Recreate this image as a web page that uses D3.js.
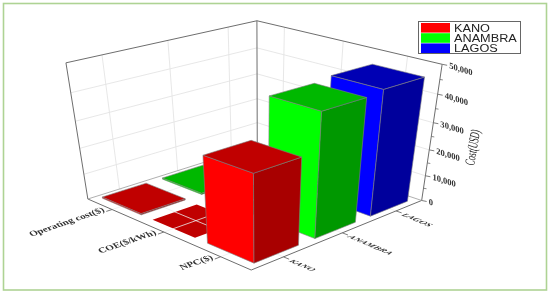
<!DOCTYPE html>
<html>
<head>
<meta charset="utf-8">
<script src="https://cdn.jsdelivr.net/npm/d3@7"></script>
<style>
html, body { margin: 0; padding: 0; background: #fff; }
svg { display: block; filter: blur(0.35px); }
</style>
</head>
<body>
<svg id="chart" width="550" height="294"></svg>
<script>
const cities = ["KANO", "ANAMBRA", "LAGOS"];
const costTypes = ["NPC($)", "COE($/kWh)", "Operating cost($)"];
const kanoValues = [32000, 5, 500];
const anambraValues = [45000, 5, 500];
const lagosValues = [46000, 5, 500];
const costTicks = [0, 10000, 20000, 30000, 40000, 50000];
const minorTicks = [5000, 15000, 25000, 35000, 45000];
const cityColors = [
    {front: "#ff0000", top: "#c00000", side: "#a80000"},
    {front: "#00ff00", top: "#00b800", side: "#009800"},
    {front: "#0000ff", top: "#0000b4", side: "#00009c"}
];
const seriesValues = [kanoValues, anambraValues, lagosValues];

// where the corners of the unit box sit in the picture: [a, b, c, x, y]
const boxCorners = [
    [0, 0, 0, 251, 271],
    [1, 0, 0, 422, 199],
    [0, 1, 0, 88, 198],
    [1, 1, 0, 257, 147],
    [1, 0, 1, 442, 65],
    [0, 1, 1, 66, 63],
    [1, 1, 1, 257, 20]
];

function solveLinear(A, v){
    const n = v.length;
    const M = A.map((row, i) => row.concat(v[i]));
    for(let i = 0; i < n; i++){
        let best = i;
        for(let r = i + 1; r < n; r++){
            if(Math.abs(M[r][i]) > Math.abs(M[best][i])) best = r;
        }
        [M[i], M[best]] = [M[best], M[i]];
        for(let r = 0; r < n; r++){
            if(r === i) continue;
            const f = M[r][i] / M[i][i];
            for(let c = i; c <= n; c++) M[r][c] -= f * M[i][c];
        }
    }
    return M.map((row, i) => row[n] / row[i]);
}

// least squares fit of the perspective camera
function fitCamera(corners){
    const rows = [], rhs = [];
    corners.forEach(([a, b, c, x, y]) => {
        rows.push([a, b, c, 1, 0, 0, 0, 0, -a * x, -b * x, -c * x]); rhs.push(x);
        rows.push([0, 0, 0, 0, a, b, c, 1, -a * y, -b * y, -c * y]); rhs.push(y);
    });
    const n = 11;
    const AtA = d3.range(n).map(i => d3.range(n).map(j => d3.sum(rows, r => r[i] * r[j])));
    const Atb = d3.range(n).map(i => d3.sum(rows, (r, k) => r[i] * rhs[k]));
    return solveLinear(AtA, Atb);
}

const cam = fitCamera(boxCorners);

function project(a, b, c){
    const w = cam[8] * a + cam[9] * b + cam[10] * c + 1;
    return [
        (cam[0] * a + cam[1] * b + cam[2] * c + cam[3]) / w,
        (cam[4] * a + cam[5] * b + cam[6] * c + cam[7]) / w
    ];
}

const x = d3.scaleBand().domain(cities).range([0, 1]).paddingInner(0.28).paddingOuter(0.15);
const y = d3.scaleBand().domain(costTypes).range([0, 1]).paddingInner(0.22).paddingOuter(0.11);
const z = d3.scaleLinear().domain([0, 50000]).range([0, 1]);

const svg = d3.select("#chart");
const line = d3.line();

function edge(p1, p2, color, width){
    svg.append("path")
        .attr("d", line([project(...p1), project(...p2)]))
        .attr("fill", "none")
        .attr("stroke", color)
        .attr("stroke-width", width);
}

function face(points, color){
    svg.append("path")
        .attr("d", line(points.map(p => project(...p))) + "Z")
        .attr("fill", color)
        .attr("stroke", "#808080")
        .attr("stroke-width", 0.6)
        .attr("stroke-linejoin", "round");
}

function drawBar(city, cost, value, colors){
    const a0 = x(city), a1 = a0 + x.bandwidth();
    const b0 = y(cost), b1 = b0 + y.bandwidth();
    const h = z(value);
    if(value < 100){
        svg.append("path")
            .attr("d", line([[a0, b0], [a1, b0], [a1, b1], [a0, b1]].map(p => project(p[0], p[1], 0))) + "Z")
            .attr("fill", colors.top);
        return;
    }
    face([[a0, b0, 0], [a0, b1, 0], [a0, b1, h], [a0, b0, h]], colors.front);
    face([[a0, b0, 0], [a1, b0, 0], [a1, b0, h], [a0, b0, h]], colors.side);
    face([[a0, b0, h], [a1, b0, h], [a1, b1, h], [a0, b1, h]], colors.top);
}

// frame round the figure
svg.append("rect")
    .attr("x", 3.5).attr("y", 3.5)
    .attr("width", 543).attr("height", 286.5)
    .attr("fill", "#fff")
    .attr("stroke", "#aed394")
    .attr("stroke-width", 1.6);

// wall grid
const gridColor = "#e4e4e4";
cities.forEach(c => {
    const a = x(c) + x.bandwidth() / 2;
    edge([a, 1, 0], [a, 1, 1], gridColor, 0.9);
});
costTypes.forEach(c => {
    const b = y(c) + y.bandwidth() / 2;
    edge([1, b, 0], [1, b, 1], gridColor, 0.9);
});
costTicks.slice(1, -1).forEach(t => {
    edge([0, 1, z(t)], [1, 1, z(t)], gridColor, 0.9);
    edge([1, 1, z(t)], [1, 0, z(t)], gridColor, 0.9);
});

// flat plates go under the floor grid, as in the original
cities.forEach((city, i) => {
    costTypes.forEach((cost, j) => {
        if(seriesValues[i][j] < 100) drawBar(city, cost, seriesValues[i][j], cityColors[i]);
    });
});
cities.forEach(c => {
    const a = x(c) + x.bandwidth() / 2;
    edge([a, 0, 0], [a, 1, 0], "#ececec", 0.8);
});
costTypes.forEach(c => {
    const b = y(c) + y.bandwidth() / 2;
    edge([0, b, 0], [1, b, 0], "#ececec", 0.8);
});

// box edges
const boxColor = "#6e6e6e";
edge([0, 1, 0], [0, 1, 1], boxColor, 1);
edge([0, 1, 1], [1, 1, 1], boxColor, 1);
edge([1, 1, 1], [1, 0, 1], boxColor, 1);
edge([1, 1, 0], [1, 1, 1], boxColor, 1);
edge([1, 0, 0], [1, 0, 1], boxColor, 1);
edge([0, 0, 0], [1, 0, 0], boxColor, 1);
edge([0, 0, 0], [0, 1, 0], boxColor, 1);
edge([0, 1, 0], [1, 1, 0], "#9a9a9a", 0.8);
edge([1, 0, 0], [1, 1, 0], "#9a9a9a", 0.8);

// bars, back to front
d3.range(costTypes.length - 1, -1, -1).forEach(j => {
    d3.range(cities.length - 1, -1, -1).forEach(i => {
        if(seriesValues[i][j] >= 100) drawBar(cities[i], costTypes[j], seriesValues[i][j], cityColors[i]);
    });
});

// cost axis ticks and labels
costTicks.forEach(t => {
    const p = project(1, 0, z(t));
    svg.append("path")
        .attr("d", line([p, [p[0] + 5, p[1] + 1]]))
        .attr("stroke", boxColor)
        .attr("stroke-width", 0.9);
    svg.append("text")
        .attr("transform", `translate(${p[0] + 7},${p[1] + 4}) matrix(0.95,0.3,0,1,0,0)`)
        .attr("font-family", "Liberation Serif")
        .attr("font-size", 9)
        .attr("font-weight", "bold")
        .attr("fill", "#333")
        .text(d3.format(",")(t));
});
minorTicks.forEach(t => {
    const p = project(1, 0, z(t));
    svg.append("path")
        .attr("d", line([p, [p[0] + 3, p[1] + 0.5]]))
        .attr("stroke", boxColor)
        .attr("stroke-width", 0.8);
});

svg.append("text")
    .attr("transform", "translate(474,166) rotate(-80) scale(0.58,1)")
    .attr("font-family", "Liberation Serif")
    .attr("font-size", 14)
    .attr("font-style", "italic")
    .attr("fill", "#222")
    .text("Cost(USD)");

// city axis
cities.forEach(c => {
    const a = x(c) + x.bandwidth() / 2;
    const p = project(a, 0, 0);
    const q = project(a, -0.03, 0);
    svg.append("path").attr("d", line([p, q])).attr("stroke", boxColor).attr("stroke-width", 0.9);
    svg.append("text")
        .attr("transform", `translate(${q[0] - 1},${q[1] + 2}) matrix(0.78,0.33,-0.65,0.28,0,0)`)
        .attr("font-family", "Liberation Serif")
        .attr("font-size", 11)
        .attr("font-weight", "bold")
        .attr("font-style", "italic")
        .attr("fill", "#333")
        .text(c);
});

// cost type axis
costTypes.forEach(c => {
    const b = y(c) + y.bandwidth() / 2;
    const p = project(0, b, 0);
    const q = project(-0.03, b, 0);
    svg.append("path").attr("d", line([p, q])).attr("stroke", boxColor).attr("stroke-width", 0.9);
    svg.append("text")
        .attr("transform", `translate(${q[0] - 1},${q[1]}) matrix(0.9,-0.31,0.5,0.62,0,0)`)
        .attr("text-anchor", "end")
        .attr("font-family", "Liberation Serif")
        .attr("font-size", 11)
        .attr("font-weight", "bold")
        .attr("fill", "#333")
        .text(c);
});

// legend
const legend = svg.append("g").attr("transform", "translate(418,21)");
legend.append("rect")
    .attr("x", 0.5).attr("y", 0.5)
    .attr("width", 102).attr("height", 32)
    .attr("fill", "#fff")
    .attr("stroke", "#666")
    .attr("stroke-width", 1);
const rowY = d3.scaleBand().domain(cities).range([2, 32]).paddingInner(0.06);
cities.forEach((c, i) => {
    legend.append("rect")
        .attr("x", 3).attr("y", rowY(c))
        .attr("width", 29).attr("height", rowY.bandwidth())
        .attr("fill", cityColors[i].front);
    legend.append("text")
        .attr("transform", `translate(36,${rowY(c) + 8.6}) scale(1.27,1)`)
        .attr("font-family", "Liberation Sans")
        .attr("font-size", 10)
        .attr("fill", "#222")
        .text(c);
});
</script>
</body>
</html>
